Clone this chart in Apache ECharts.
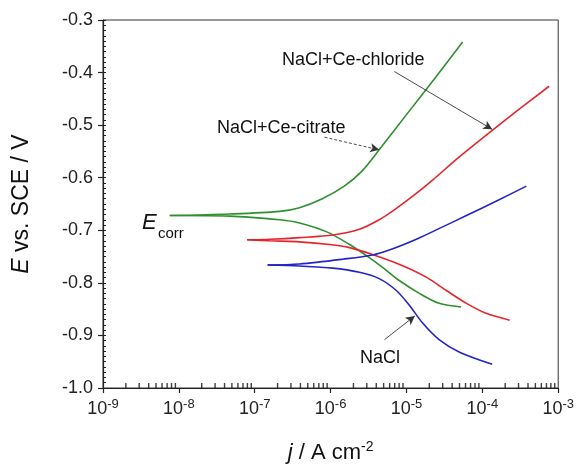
<!DOCTYPE html>
<html>
<head>
    <meta charset="utf-8">
    <title>Tafel</title>
    <script src="https://cdn.jsdelivr.net/npm/echarts@6/dist/echarts.min.js"></script>
    <style>
        html, body { margin: 0; padding: 0; background: #fff; }
        #chart { width: 577px; height: 469px; }
    </style>
</head>
<body>
<div id="chart"></div>
<script>
    // log10(j) and E, each branch starts at Ecorr
    var citrateAnodicLogJ = [-8.12, -7.33, -6.67, -6.41, -6.11, -5.82, -5.59, -5.36, -5.00, -4.61, -4.26];
    var citrateAnodicE    = [-0.672, -0.669, -0.664, -0.657, -0.640, -0.616, -0.588, -0.547, -0.480, -0.408, -0.342];
    var citrateCathodicLogJ = [-8.12, -7.33, -6.67, -6.41, -6.05, -5.75, -5.49, -5.32, -5.09, -4.83, -4.57, -4.28];
    var citrateCathodicE    = [-0.672, -0.673, -0.680, -0.686, -0.703, -0.727, -0.752, -0.770, -0.796, -0.820, -0.839, -0.846];

    var chlorideAnodicLogJ = [-7.10, -6.80, -6.41, -5.97, -5.62, -5.36, -5.16, -4.96, -4.66, -4.30, -3.87, -3.51, -3.12];
    var chlorideAnodicE    = [-0.718, -0.717, -0.714, -0.709, -0.698, -0.680, -0.661, -0.640, -0.605, -0.560, -0.510, -0.469, -0.426];
    var chlorideCathodicLogJ = [-7.10, -6.80, -6.41, -6.01, -5.75, -5.45, -5.09, -4.74, -4.47, -4.21, -3.95, -3.64];
    var chlorideCathodicE    = [-0.718, -0.720, -0.722, -0.727, -0.733, -0.746, -0.765, -0.789, -0.815, -0.839, -0.858, -0.871];

    var naclAnodicLogJ = [-6.83, -6.41, -5.84, -5.45, -5.18, -4.87, -4.53, -4.21, -3.78, -3.42];
    var naclAnodicE    = [-0.766, -0.764, -0.755, -0.747, -0.735, -0.717, -0.694, -0.672, -0.642, -0.616];
    var naclCathodicLogJ = [-6.83, -6.41, -5.97, -5.62, -5.36, -5.13, -4.96, -4.79, -4.57, -4.30, -3.87];
    var naclCathodicE    = [-0.766, -0.768, -0.772, -0.780, -0.792, -0.815, -0.843, -0.876, -0.908, -0.932, -0.955];

    var xMinExp = -9, xMaxExp = -3;
    var yMin = -1.0, yMax = -0.3;

    function pairs(logJ, e) {
        return logJ.map(function (v, k) { return [Math.pow(10, v), e[k]]; });
    }

    // minor ticks 2..9 of every decade along the bottom axis
    var minorX = [];
    for (var d = xMinExp; d < xMaxExp; d++) {
        for (var m = 2; m <= 9; m++) minorX.push([m * Math.pow(10, d), yMin]);
    }
    var minorY = [];
    for (var t = 0; t <= 70; t++) minorY.push(+(yMin + t * 0.01).toFixed(2));

    var GREEN = '#2f8f2f', RED = '#e3262b', BLUE = '#2424c4';
    var font = 'Liberation Sans, Arial, sans-serif';

    function curve(logJ, e, color) {
        return {
            type: 'line', xAxisIndex: 0, yAxisIndex: 0,
            data: pairs(logJ, e), showSymbol: false, smooth: 0.3,
            lineStyle: { color: color, width: 1.6 }, itemStyle: { color: color },
            z: 3, silent: true
        };
    }

    function arrow(from, to, dashed) {
        return {
            type: 'line', xAxisIndex: 0, yAxisIndex: 0, data: [], silent: true,
            markLine: {
                silent: true, symbol: ['none', 'arrow'], symbolSize: [7, 9],
                label: { show: false },
                lineStyle: { color: '#333', width: 0.9, type: dashed ? [3, 2] : 'solid' },
                data: [[{ coord: [Math.pow(10, from[0]), from[1]] }, { coord: [Math.pow(10, to[0]), to[1]] }]]
            }
        };
    }

    var chart = echarts.init(document.getElementById('chart'), null, { renderer: 'canvas' });
    chart.setOption({
        animation: false,
        textStyle: { fontFamily: font },
        grid: { left: 103, right: 18, top: 20, bottom: 72, show: true, borderColor: '#333', borderWidth: 1 },
        xAxis: {
            type: 'log', logBase: 10,
            min: Math.pow(10, xMinExp), max: Math.pow(10, xMaxExp),
            position: 'bottom',
            name: '{i|j} / A cm{s|-2}',
            nameLocation: 'middle', nameGap: 52,
            nameTextStyle: {
                fontFamily: font, fontSize: 22, color: '#111',
                rich: {
                    i: { fontStyle: 'italic', fontSize: 22, fontFamily: font, color: '#111' },
                    s: { fontSize: 14, fontFamily: font, color: '#111', padding: [0, 0, 12, 0] }
                }
            },
            axisLine: { show: true, onZero: false, lineStyle: { color: '#222', width: 1.2 } },
            axisTick: { show: true, length: 5, lineStyle: { color: '#222', width: 1.2 } },
            splitLine: { show: false },
            axisLabel: {
                margin: 10, color: '#222',
                formatter: function (v) {
                    return '{b|10}{s|' + Math.round(Math.log10(v)) + '}';
                },
                rich: {
                    b: { fontSize: 18, fontFamily: font, color: '#222' },
                    s: { fontSize: 13, fontFamily: font, color: '#222', padding: [0, 0, 10, 0] }
                }
            }
        },
        yAxis: [{
            type: 'value', min: yMin, max: yMax, interval: 0.1,
            name: '{i|E} vs. SCE / V',
            nameLocation: 'middle', nameGap: 70, nameRotate: 90,
            nameTextStyle: {
                fontFamily: font, fontSize: 23, color: '#111',
                rich: { i: { fontStyle: 'italic', fontSize: 23, fontFamily: font, color: '#111' } }
            },
            axisLine: { show: true, onZero: false, lineStyle: { color: '#222', width: 1.2 } },
            axisTick: { show: true, length: 5, lineStyle: { color: '#222', width: 1.2 } },
            splitLine: { show: false },
            axisLabel: {
                margin: 10, fontSize: 18, color: '#222', fontFamily: font,
                formatter: function (v) { return v.toFixed(1); }
            }
        }, {
            type: 'value', min: yMin, max: yMax, position: 'left',
            axisLine: { show: false },
            axisTick: { show: true, inside: true, length: 3, customValues: minorY, lineStyle: { color: '#222', width: 1 } },
            axisLabel: { show: false },
            splitLine: { show: false }
        }],
        series: [
            curve(citrateAnodicLogJ, citrateAnodicE, GREEN),
            curve(citrateCathodicLogJ, citrateCathodicE, GREEN),
            curve(chlorideAnodicLogJ, chlorideAnodicE, RED),
            curve(chlorideCathodicLogJ, chlorideCathodicE, RED),
            curve(naclAnodicLogJ, naclAnodicE, BLUE),
            curve(naclCathodicLogJ, naclCathodicE, BLUE),
            arrow([-5.16, -0.398], [-3.87, -0.508], false),
            arrow([-6.08, -0.523], [-5.36, -0.547], true),
            arrow([-5.29, -0.908], [-4.89, -0.863], false),
            {
                // inward minor ticks of the log axis
                type: 'scatter', xAxisIndex: 0, yAxisIndex: 0, data: minorX,
                symbol: 'rect', symbolSize: [1.4, 5], symbolOffset: [0, -2.5],
                itemStyle: { color: '#111' }, clip: false, silent: true, z: 10
            }
        ],
        graphic: [
            { type: 'text', left: 282, top: 51, style: { text: 'NaCl+Ce-chloride', fontSize: 18, fontFamily: font, fill: '#111' } },
            { type: 'text', left: 217, top: 119, style: { text: 'NaCl+Ce-citrate', fontSize: 18, fontFamily: font, fill: '#111' } },
            { type: 'text', left: 360, top: 349, style: { text: 'NaCl', fontSize: 18, fontFamily: font, fill: '#111' } },
            { type: 'text', left: 142, top: 212, style: { text: 'E', fontSize: 22, fontStyle: 'italic', fontFamily: font, fill: '#111' } },
            { type: 'text', left: 158, top: 226, style: { text: 'corr', fontSize: 15, fontFamily: font, fill: '#111' } }
        ]
    });
</script>
</body>
</html>
